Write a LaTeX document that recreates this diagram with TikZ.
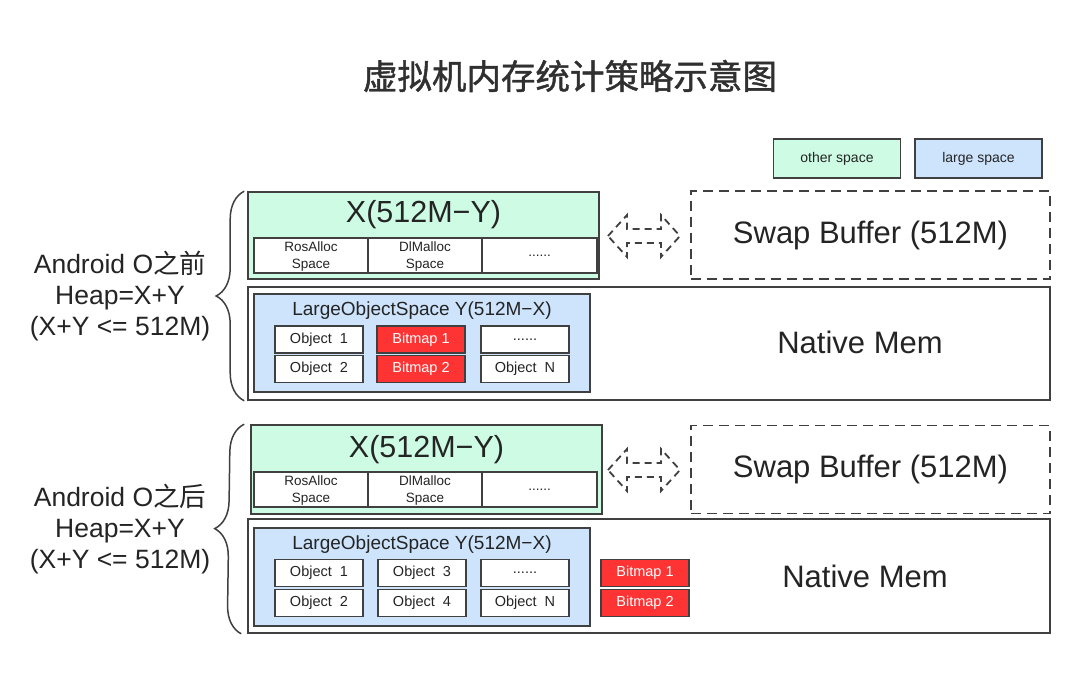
\documentclass[tikz,border=0pt]{standalone}
\usepackage{fontspec}
\setmainfont{Liberation Sans}
\newfontfamily\cjk{Noto Sans CJK SC}
\newfontfamily\cjktitle[FakeBold=1.3]{Noto Sans CJK SC}
\usetikzlibrary{decorations.pathreplacing}
\definecolor{linec}{RGB}{64,64,64}
\definecolor{txtc}{RGB}{36,36,36}
\definecolor{titlec}{RGB}{48,48,48}
\definecolor{othergreen}{RGB}{205,251,228}
\definecolor{largeblue}{RGB}{205,228,252}
\definecolor{bitred}{RGB}{254,52,52}
\tikzset{
  box/.style={draw=linec, line width=1.6pt, inner sep=0pt},
  cell/.style={box, fill=white, minimum width=114pt, minimum height=35pt,
    align=center, font=\fontsize{13.5}{16.5}\selectfont},
  obj/.style={box, fill=white, minimum width=88pt, minimum height=27pt,
    font=\fontsize{14.5}{16}\selectfont},
  bmp/.style={obj, fill=bitred, text=white},
  legendbox/.style={box, minimum width=127pt, minimum height=39pt,
    font=\fontsize{14}{16}\selectfont},
  swapbox/.style={box, dashed, dash pattern=on 10pt off 6pt,
    minimum width=359pt, minimum height=88pt, font=\fontsize{31}{36}\selectfont},
  bigtext/.style={font=\fontsize{31}{36}\selectfont},
  spacetext/.style={font=\fontsize{30.5}{34}\selectfont},
  lostext/.style={font=\fontsize{19}{22}\selectfont},
  heaptext/.style={align=center, font=\fontsize{26.5}{31}\selectfont},
  heapbrace/.style={decorate, decoration={brace, amplitude=28pt, aspect=0.5},
    draw=linec, line width=1.5pt},
  swaparrow/.style={draw=linec, line width=1.8pt, dash pattern=on 7pt off 5pt}
}
\begin{document}
\begin{tikzpicture}[x=1pt, y=-1pt, text=txtc]
  \fill[white] (0,0) rectangle (1080,690);
  \useasboundingbox (0,0) rectangle (1080,690);

  % title and legend
  \node[text=titlec, font=\cjktitle\fontsize{34.5}{38}\selectfont] (ttl) at (570,76) {虚拟机内存统计策略示意图};
  \node[legendbox, fill=othergreen] (lgo) at (837,158.5) {other space};
  \node[legendbox, fill=largeblue] (lgl) at (978.5,158.5) {large space};

  % before Android O
  \node[box, fill=othergreen, minimum width=351pt, minimum height=87pt] (gx1) at (423.5,235.5) {};
  \node[spacetext] (xt1) at (423.5,215) {X(512M−Y)};
  \node[cell] (ra1) at (311,255.5) {\strut RosAlloc\\Space};
  \node[cell] (dl1) at (425,255.5) {\strut DlMalloc\\Space};
  \node[cell, minimum width=115pt] (dt1) at (539.5,255.5) {......};
  \node[box, minimum width=802pt, minimum height=113pt] (nat1) at (649,343.5) {};
  \node[box, fill=largeblue, minimum width=336pt, minimum height=98pt] (lo1) at (422,343) {};
  \node[lostext] (lt1) at (422,311) {LargeObjectSpace Y(512M−X)};
  \node[obj] (oa1) at (319,339.5) {Object\ \ 1};
  \node[obj] (ob1) at (319,369) {Object\ \ 2};
  \node[bmp] (ba1) at (421,339.5) {Bitmap 1};
  \node[bmp] (bb1) at (421,369) {Bitmap 2};
  \node[obj] (oc1) at (525,339.5) {......};
  \node[obj] (od1) at (525,369) {Object\ \ N};
  \node[bigtext] (nm1) at (860,342) {Native Mem};
  \node[swapbox] (sw1) at (870.5,235) {Swap Buffer (512M)};
  \node[heaptext] (hp1) at (120,296) {Android O{\cjk 之前}\\Heap=X+Y\\(X+Y <= 512M)};
  \draw[heapbrace] ([xshift=-3pt]nat1.south west) -- ([xshift=-3pt]gx1.north west);

  % after Android O
  \node[box, fill=othergreen, minimum width=351pt, minimum height=89pt] (gx2) at (426.5,469.5) {};
  \node[spacetext] (xt2) at (426.5,450) {X(512M−Y)};
  \node[cell] (ra2) at (311,489.5) {\strut RosAlloc\\Space};
  \node[cell] (dl2) at (425,489.5) {\strut DlMalloc\\Space};
  \node[cell, minimum width=115pt] (dt2) at (539.5,489.5) {......};
  \node[box, minimum width=802pt, minimum height=114pt] (nat2) at (649,576) {};
  \node[box, fill=largeblue, minimum width=336pt, minimum height=98pt] (lo2) at (422,577) {};
  \node[lostext] (lt2) at (422,545) {LargeObjectSpace Y(512M−X)};
  \node[obj] (oa2) at (319,573) {Object\ \ 1};
  \node[obj] (ob2) at (319,603) {Object\ \ 2};
  \node[obj] (oe2) at (422,573) {Object\ \ 3};
  \node[obj] (of2) at (422,603) {Object\ \ 4};
  \node[obj] (oc2) at (525,573) {......};
  \node[obj] (od2) at (525,603) {Object\ \ N};
  \node[bmp] (ba2) at (645,573) {Bitmap 1};
  \node[bmp] (bb2) at (645,603) {Bitmap 2};
  \node[bigtext] (nm2) at (865,576) {Native Mem};
  \node[swapbox] (sw2) at (870.5,469.5) {Swap Buffer (512M)};
  \node[heaptext] (hp2) at (120,529) {Android O{\cjk 之后}\\Heap=X+Y\\(X+Y <= 512M)};
  \draw[heapbrace] ([xshift=-6pt]nat2.south west) -- ([xshift=-6pt]gx2.north west);

  % dashed swap arrows
  \foreach \yy in {236,470}
    \draw[swaparrow, shift={(644,\yy)}] (-36,0) -- (-17,-21) -- (-17,-7) -- (17,-7)
      -- (17,-21) -- (36,0) -- (17,21) -- (17,7) -- (-17,7) -- (-17,21) -- cycle;
\end{tikzpicture}
\end{document}
